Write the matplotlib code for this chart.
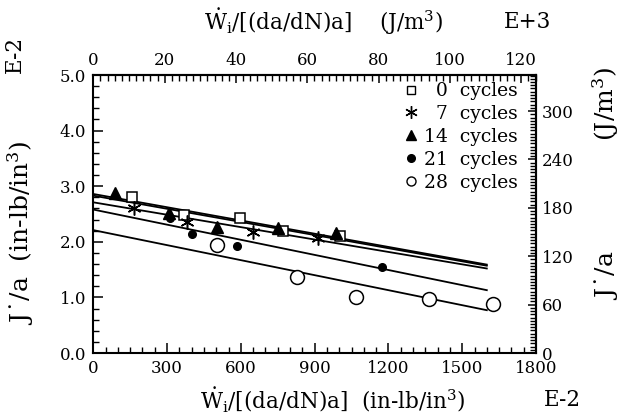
"""
J*/a versus W_i/[(da/dN)a] for several cycle counts, dual unit axes
"""
import numpy as np
import matplotlib
matplotlib.use("Agg")
import matplotlib.pyplot as plt
from matplotlib.lines import Line2D
from matplotlib.ticker import MultipleLocator, FormatStrFormatter

plt.rcParams['font.family'] = ['DejaVu Serif']
plt.rcParams['mathtext.fontset'] = 'dejavuserif'

# unit conversions (in-lb/in^3 -> J/m^3)
x_to_top = 6894.76 * 1e-2 / 1e3   # E-2 in-lb/in^3 -> E+3 J/m^3
y_to_right = 6894.76 * 1e-2       # E-2 in-lb/in^3 -> J/m^3

# data (x in E-2 in-lb/in^3, y in E-2 in-lb/in^3)
x_0 = [156, 370, 597, 773, 1003]
y_0 = [2.81, 2.49, 2.42, 2.20, 2.11]
x_7 = [167, 380, 651, 915]
y_7 = [2.61, 2.36, 2.18, 2.06]
x_14 = [88, 308, 502, 750, 986]
y_14 = [2.88, 2.51, 2.27, 2.24, 2.16]
x_21 = [313, 403, 583, 1173]
y_21 = [2.43, 2.14, 1.92, 1.55]
x_28 = [502, 827, 1068, 1365, 1627]
y_28 = [1.94, 1.36, 1.01, 0.98, 0.88]

# fitted lines: value at x=0 and at x=1600
fit_x = [0, 1600]
fit_0 = [2.86, 1.59]
fit_7 = [2.71, 1.52]
fit_14 = [2.83, 1.57]
fit_21 = [2.58, 1.13]
fit_28 = [2.21, 0.77]

fig = plt.figure(figsize=(6.24, 4.13), dpi=100)
ax = fig.add_axes([93.3 / 624, 1 - 353 / 413, (536 - 93.3) / 624, (353 - 75) / 413])

for fy in [fit_0, fit_7, fit_14, fit_21, fit_28]:
    ax.plot(fit_x, fy, color='black', lw=1.3)

ax.plot(x_0, y_0, ls='none', marker='s', ms=7.5, mfc='white', mec='black', mew=1.1)
ax.plot(x_7, y_7, ls='none', marker=(6, 2, 0), ms=10, mec='black', mew=1.1)
ax.plot(x_14, y_14, ls='none', marker='^', ms=8, mfc='black', mec='black')
ax.plot(x_21, y_21, ls='none', marker='o', ms=5.5, mfc='black', mec='black')
ax.plot(x_28, y_28, ls='none', marker='o', ms=10, mfc='white', mec='black', mew=1.1)

handles = [
    Line2D([], [], ls='none', marker='s', ms=6, mfc='white', mec='black', mew=1.0),
    Line2D([], [], ls='none', marker=(6, 2, 0), ms=9, mec='black', mew=1.0),
    Line2D([], [], ls='none', marker='^', ms=7, mfc='black', mec='black'),
    Line2D([], [], ls='none', marker='o', ms=5.5, mfc='black', mec='black'),
    Line2D([], [], ls='none', marker='o', ms=6.5, mfc='white', mec='black', mew=1.0),
]
labels = ['\u20070  cycles', '\u20077  cycles', '14  cycles', '21  cycles', '28  cycles']
ax.legend(handles, labels, loc='upper right', frameon=False, fontsize=13.5,
          handlelength=0.8, handletextpad=0.3, labelspacing=0.26,
          borderaxespad=0.2, bbox_to_anchor=(0.985, 1.015))

ax.set_xlim(0, 1800)
ax.set_ylim(0, 5.0)
ax.xaxis.set_major_locator(MultipleLocator(300))
ax.xaxis.set_minor_locator(MultipleLocator(50))
ax.xaxis.set_major_formatter(FormatStrFormatter('%d'))
ax.yaxis.set_major_locator(MultipleLocator(1.0))
ax.yaxis.set_minor_locator(MultipleLocator(0.2))
ax.yaxis.set_major_formatter(FormatStrFormatter('%.1f'))
ax.tick_params(which='major', direction='in', length=7, width=1.1, labelsize=12, pad=5)
ax.tick_params(which='minor', direction='in', length=4, width=1.0)
for s in ax.spines.values():
    s.set_linewidth(1.5)

top = ax.secondary_xaxis('top', functions=(lambda v: v * x_to_top, lambda v: v / x_to_top))
top.xaxis.set_major_locator(MultipleLocator(20))
top.xaxis.set_minor_locator(MultipleLocator(2))
top.tick_params(which='major', direction='in', length=6, width=1.1, labelsize=12, pad=4)
top.tick_params(which='minor', direction='in', length=4, width=1.0)
top.spines['top'].set_linewidth(1.5)

right = ax.secondary_yaxis('right', functions=(lambda v: v * y_to_right, lambda v: v / y_to_right))
right.yaxis.set_major_locator(MultipleLocator(60))
right.yaxis.set_minor_locator(MultipleLocator(4))
right.tick_params(which='major', direction='in', length=6, width=1.1, labelsize=12, pad=4)
right.tick_params(which='minor', direction='in', length=4, width=1.0)
right.spines['right'].set_linewidth(1.5)

# axis titles
lab_fs = 15.5
fig.text(333 / 624, 1 - 400 / 413,
         r"$\dot{\mathrm{W}}_{\mathrm{i}}$/[(da/dN)a]  (in-lb/in$^{3}$)",
         ha='center', va='center', fontsize=lab_fs)
fig.text(562 / 624, 1 - 400 / 413, "E-2", ha='center', va='center', fontsize=lab_fs)
fig.text(323 / 624, 1 - 22 / 413,
         r"$\dot{\mathrm{W}}_{\mathrm{i}}$/[(da/dN)a]    (J/m$^{3}$)",
         ha='center', va='center', fontsize=lab_fs)
fig.text(528 / 624, 1 - 22 / 413, "E+3", ha='center', va='center', fontsize=lab_fs)
fig.text(21 / 624, 1 - 233 / 413, "J\u02d9/a  (in-lb/in$^{3}$)",
         ha='center', va='center', rotation=90, fontsize=18)
fig.text(15 / 624, 1 - 54 / 413, "E-2", ha='center', va='center', rotation=90, fontsize=lab_fs)
fig.text(606 / 624, 1 - 184 / 413, "J\u02d9/a              (J/m$^{3}$)",
         ha='center', va='center', rotation=90, fontsize=18)

fig.savefig("out.png", dpi=100)
